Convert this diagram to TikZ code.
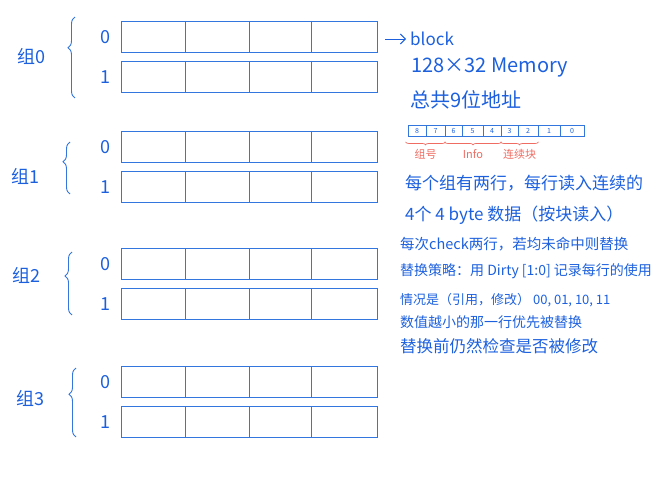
\documentclass[tikz,border=0pt]{standalone}
\usepackage{fontspec}
\usepackage{xcolor}
\usepackage{tikz}
\usetikzlibrary{arrows.meta,positioning,decorations.pathreplacing}
\newfontfamily\cjk{Noto Sans CJK SC}
\definecolor{penblue}{RGB}{50,118,222}
\definecolor{inkblue}{RGB}{28,96,222}
\definecolor{penred}{RGB}{238,108,98}

\begin{document}
\begin{tikzpicture}[
  x=1pt, y=-1pt,
  cell/.style={draw=penblue, line width=0.9pt},
  rowlabel/.style={font=\cjk\fontsize{18}{18}\selectfont, text=inkblue},
  grouplabel/.style={font=\cjk\fontsize{18}{18}\selectfont, text=inkblue},
  groupbrace/.style={draw=penblue, line width=0.9pt, decorate, decoration={brace, amplitude=7pt, aspect=0.62}},
  note/.style={font=\cjk\fontsize{#1}{#1}\selectfont, text=inkblue, inner sep=0pt, anchor=west},
  bitcell/.style={draw=penblue, line width=0.9pt, minimum height=11pt, inner sep=0pt, font=\cjk\fontsize{7}{7}\selectfont, text=inkblue},
  redbrace/.style={draw=penred, line width=0.7pt, decorate, decoration={brace, mirror, amplitude=3pt}},
  redtext/.style={font=\cjk\fontsize{11}{11}\selectfont, text=penred, inner sep=0pt}
]
\useasboundingbox (0,0) rectangle (654,500);

% Cache: 4 groups x 2 rows x 4 words
\foreach \g/\top in {0/21, 1/131, 2/248, 3/366}{
  \foreach \r in {0,1}{
    \pgfmathsetmacro\ytop{\top+40*\r}
    \draw[cell] (121,\ytop) rectangle (377,\ytop+31);
    \foreach \xd in {185,249,311} \draw[cell] (\xd,\ytop) -- (\xd,\ytop+31);
    \node[rowlabel] (row\g\r) at (105,\ytop+16) {\r};
  }
}

% Group names and braces
\foreach \g/\lx/\ly/\bx/\bt/\bb in {0/31/56/75/17/98, 1/25/176/70/142/194, 2/26/275/72/252/315, 3/30/398/76/368/437}{
  \node[grouplabel] (grp\g) at (\lx,\ly) {组\g};
  \draw[groupbrace] (\bx,\bb) -- (\bx,\bt);
}

% Block arrow and memory notes
\coordinate (blocktail) at (385,39);
\node[note=17] (block) at (410,39) {block};
\draw[-{Straight Barb[length=5pt]}, draw=inkblue, line width=0.9pt, shorten >=4pt] (blocktail) -- (block);
\node[note=20] (memory) at (411,68) {128×32 Memory};
\node[note=20] (addr) at (410,100) {总共9位地址};

% Address bits
\foreach \b/\xl/\xr in {8/408/426, 7/426/445, 6/445/462, 5/462/483, 4/483/501, 3/501/518, 2/518/538, 1/538/560, 0/560/584}{
  \node[bitcell, minimum width=\xr pt-\xl pt] (bit\b) at ({(\xl+\xr)/2},131) {\b};
}
\draw[redbrace] ([shift={(-2pt,-5pt)}]bit8.south west) -- ([shift={(0pt,-5pt)}]bit7.south east)
  node[midway, below=7pt, redtext] (lblgroup) {组号};
\draw[redbrace] ([shift={(0pt,-5pt)}]bit6.south west) -- ([shift={(0pt,-5pt)}]bit4.south east)
  node[midway, below=7pt, redtext] (lblinfo) {Info};
\draw[redbrace] ([shift={(0pt,-5pt)}]bit3.south west) -- ([shift={(0pt,-5pt)}]bit2.south east)
  node[midway, below=7pt, redtext] (lblblock) {连续块};

% Notes on the cache
\node[note=17] (line1) at (405,183) {每个组有两行，每行读入连续的};
\node[note=17] (line2) at (405,215) {4个 4 byte 数据（按块读入）};
\node[note=14.5] (line3) at (400,244) {每次check两行，若均未命中则替换};
\node[note=14] (line4) at (400,271) {替换策略：用 Dirty [1:0] 记录每行的使用};
\node[note=13] (line5) at (400,300) {情况是（引用，修改） 00, 01, 10, 11};
\node[note=14] (line6) at (400,322) {数值越小的那一行优先被替换};
\node[note=16.5] (line7) at (400,346) {替换前仍然检查是否被修改};

\end{tikzpicture}
\end{document}
